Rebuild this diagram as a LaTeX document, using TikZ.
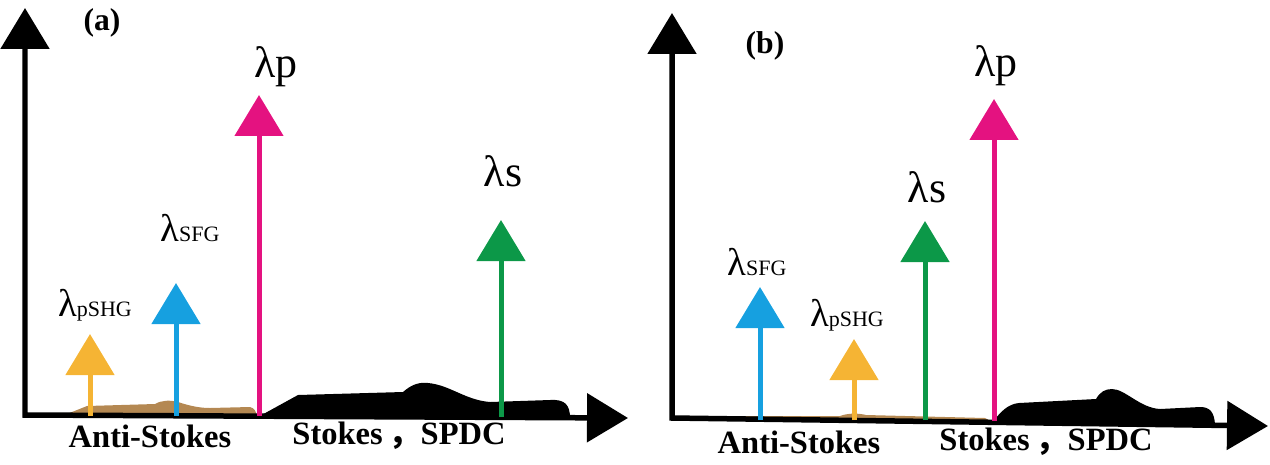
\documentclass[tikz,border=0pt]{standalone}
\usepackage{fontspec}
\setmainfont{Liberation Serif}
\newfontfamily\cjk{Noto Sans CJK SC}
\usetikzlibrary{arrows.meta}
\definecolor{pumpc}{RGB}{228,18,128}
\definecolor{sigc}{RGB}{12,152,72}
\definecolor{sfgc}{RGB}{22,160,224}
\definecolor{shgc}{RGB}{245,180,52}
\definecolor{asc}{RGB}{180,136,82}
\newcommand{\lamsub}[1]{{\fontsize{22}{22}\selectfont λ}{\fontsize{12.5}{12.5}\selectfont #1}}
\newcommand{\lambig}[1]{\fontsize{25}{25}\selectfont λ#1}
\begin{document}
\begin{tikzpicture}[x=0.02cm, y=-0.02cm]
\tikzset{ >={Triangle[width=0.96cm, length=0.82cm]}, inner sep=0pt, outer sep=0pt,
  axis/.style={line width=0.11cm, <->},
  spec/.style={line width=0.1cm, ->, color=#1},
  band/.style={font=\fontsize{18.5}{18.5}\selectfont\bfseries},
  tag/.style={font=\fontsize{18}{18}\selectfont\bfseries} }
\useasboundingbox (0,0) rectangle (1270,464);
%\draw [lightgray, dashed] (0,0) grid[step=50] (1270,464);

%% panel (a)
\fill [asc] (62,416) -- (87,406) -- (155,404) .. controls (162,400) and (170,400) .. (178,402)
  .. controls (190,406) and (200,408) .. (210,408) -- (250,407)
  .. controls (254,408) and (256,411) .. (257,416) -- cycle;
\fill [black] (258,417) -- (298,395) -- (403,392) .. controls (412,384) and (420,382) .. (428,383)
  .. controls (450,385) and (465,400) .. (490,402) -- (550,400)
  .. controls (565,399) and (570,405) .. (570,418) -- cycle;

\coordinate (Ya) at (25,8);
\coordinate (Oa) at (25,415);
\coordinate (Xa) at (628,418);
\draw [axis] (Ya) -- (Oa) -- (Xa);

\coordinate (Ha0) at (90,416);  \coordinate (Ha1) at (90,334);
\coordinate (Fa0) at (176,416); \coordinate (Fa1) at (176,283);
\coordinate (Pa0) at (259,416); \coordinate (Pa1) at (259,95);
\coordinate (Sa0) at (501,417); \coordinate (Sa1) at (501,220);
\draw [spec=shgc]  (Ha0) -- (Ha1);
\draw [spec=sfgc]  (Fa0) -- (Fa1);
\draw [spec=pumpc] (Pa0) -- (Pa1);
\draw [spec=sigc]  (Sa0) -- (Sa1);

\node [tag] (TA) at (102,23) {(a)};
\node (LPa) at (276,67) {\lambig{p}};
\node (LSa) at (503,171) {\lambig{s}};
\node (LFa) at (190,228) {\lamsub{SFG}};
\node (LHa) at (95,305) {\lamsub{pSHG}};
\node [band] (ASa) at (150,436) {Anti-Stokes};
\node [band] (STa) at (399,436) {Stokes\,{\cjk ，}SPDC};

%% panel (b)
\fill [asc] (725,419) -- (745,416) -- (840,416) .. controls (848,413) and (858,413) .. (866,415)
  -- (985,418) -- (991,421) -- cycle;
\fill [black] (993,422) .. controls (1000,412) and (1008,404) .. (1019,403) -- (1096,399)
  .. controls (1100,392) and (1105,389) .. (1112,389)
  .. controls (1125,389) and (1140,408) .. (1160,409) -- (1200,407)
  .. controls (1210,407) and (1214,412) .. (1215,424) -- cycle;

\coordinate (Yb) at (672,13);
\coordinate (Ob) at (672,418);
\coordinate (Xb) at (1268,426);
\draw [axis] (Yb) -- (Ob) -- (Xb);

\coordinate (Fb0) at (760,420); \coordinate (Fb1) at (760,287);
\coordinate (Hb0) at (854,420); \coordinate (Hb1) at (854,339);
\coordinate (Sb0) at (925,420); \coordinate (Sb1) at (925,221);
\coordinate (Pb0) at (994,421); \coordinate (Pb1) at (994,99);
\draw [spec=sfgc]  (Fb0) -- (Fb1);
\draw [spec=shgc]  (Hb0) -- (Hb1);
\draw [spec=sigc]  (Sb0) -- (Sb1);
\draw [spec=pumpc] (Pb0) -- (Pb1);

\node [tag] (TB) at (765,46) {(b)};
\node (LPb) at (996,66) {\lambig{p}};
\node (LSb) at (927,187) {\lambig{s}};
\node (LFb) at (757,262) {\lamsub{SFG}};
\node (LHb) at (847,315) {\lamsub{pSHG}};
\node [band] (ASb) at (799,442) {Anti-Stokes};
\node [band] (STb) at (1046,442) {Stokes\,{\cjk ，}SPDC};

\end{tikzpicture}
\end{document}
